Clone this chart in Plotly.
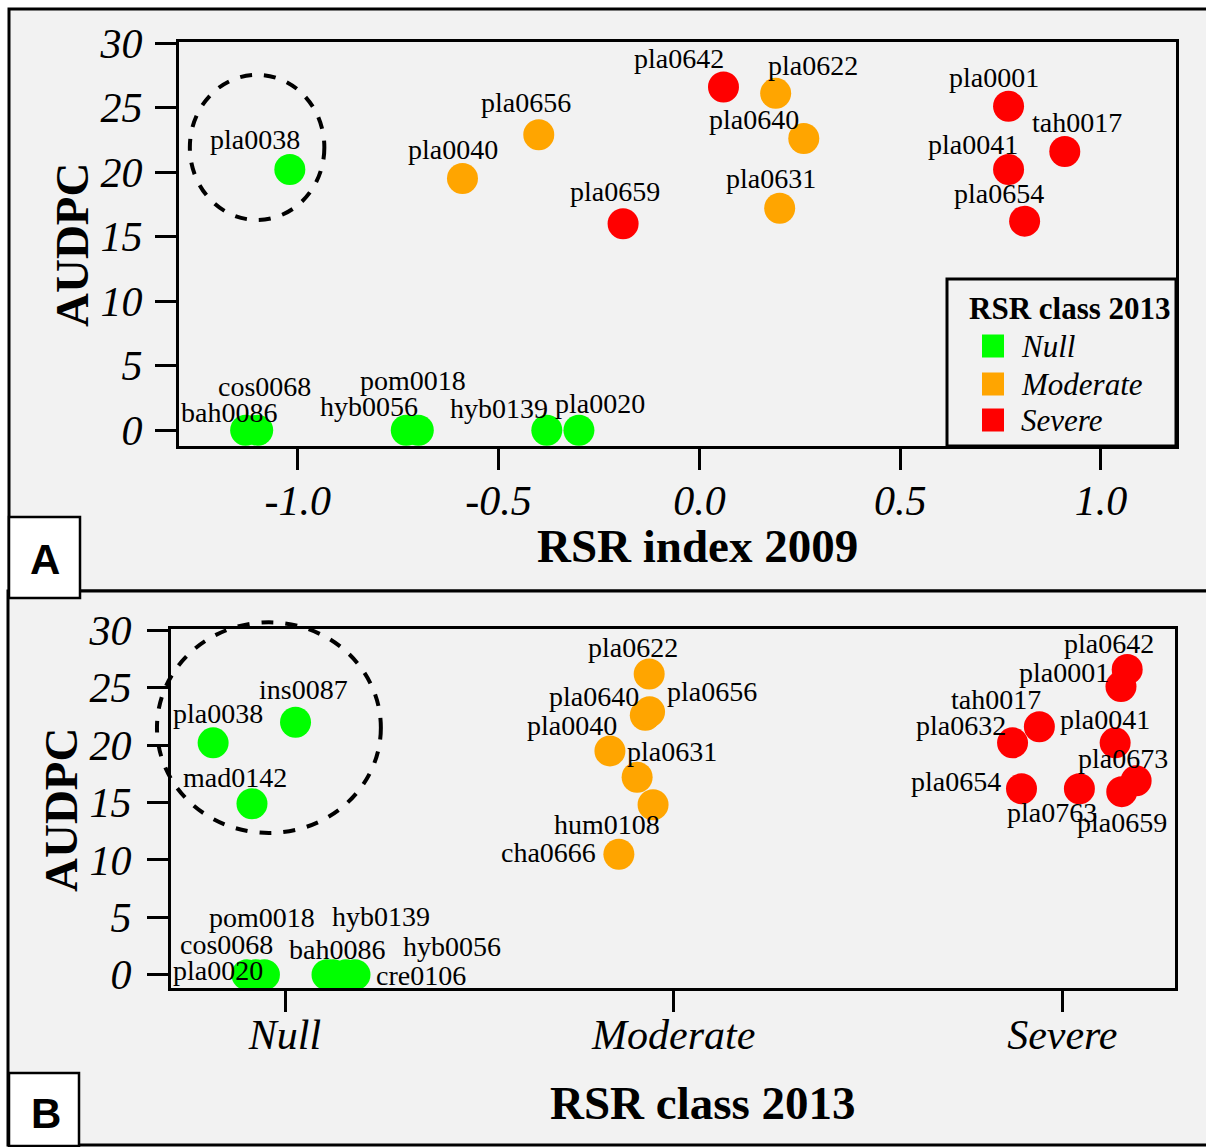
import plotly.graph_objects as go

W, H = 1206, 1147

# ---------------- data ----------------
classes = ["Null", "Moderate", "Severe"]
class_colors = ["#00ff00", "#ffa500", "#ff0000"]

# Panel A : AUDPC vs RSR index 2009
a_names = ["pla0038", "pla0040", "pla0656", "pla0659", "pla0642", "pla0622", "pla0640",
           "pla0631", "pla0001", "tah0017", "pla0041", "pla0654",
           "bah0086", "cos0068", "hyb0056", "pom0018", "hyb0139", "pla0020"]
a_rsr2009 = [-1.02, -0.59, -0.40, -0.19, 0.06, 0.19, 0.26,
             0.20, 0.77, 0.91, 0.77, 0.81,
             -1.13, -1.10, -0.73, -0.70, -0.38, -0.30]
a_audpc = [20.2, 19.5, 22.9, 16.0, 26.6, 26.1, 22.6,
           17.2, 25.1, 21.6, 20.2, 16.2,
           0, 0, 0, 0, 0, 0]
a_class = ["Null", "Moderate", "Moderate", "Severe", "Severe", "Moderate", "Moderate",
           "Moderate", "Severe", "Severe", "Severe", "Severe",
           "Null", "Null", "Null", "Null", "Null", "Null"]

a_xtick_vals = [-1.0, -0.5, 0.0, 0.5, 1.0]
a_xtick_text = ["-1.0", "-0.5", "0.0", "0.5", "1.0"]
y_tick_vals = [0, 5, 10, 15, 20, 25, 30]
y_tick_text = ["0", "5", "10", "15", "20", "25", "30"]

# Panel B : AUDPC vs RSR class 2013 (jittered within class)
b_names = ["pla0038", "ins0087", "mad0142", "pla0020", "cos0068", "pom0018", "bah0086",
           "hyb0139", "hyb0056", "cre0106",
           "pla0622", "pla0640", "pla0656", "pla0040", "pla0631", "hum0108", "cha0666",
           "pla0642", "pla0001", "tah0017", "pla0632", "pla0041", "pla0673", "pla0659",
           "pla0654", "pla0763"]
b_class = ["Null"] * 10 + ["Moderate"] * 7 + ["Severe"] * 9
b_jitter = [-0.185, 0.027, -0.085, -0.098, -0.075, -0.053, 0.108, 0.124, 0.157, 0.180,
            -0.063, -0.073, -0.062, -0.164, -0.094, -0.053, -0.141,
            0.167, 0.151, -0.059, -0.128, 0.136, 0.190, 0.153, -0.105, 0.044]
b_audpc = [20.2, 22.0, 14.9, 0, 0, 0, 0, 0, 0, 0,
           26.2, 22.6, 22.9, 19.5, 17.2, 14.8, 10.5,
           26.6, 25.1, 21.6, 20.2, 20.2, 16.9, 15.95, 16.2, 16.2]

# ---------------- label placement (pixel offsets) ----------------
a_label_off = {
    "pla0038": (-35, -30), "pla0040": (-9, -29), "pla0656": (-13, -32), "pla0659": (-8, -32),
    "pla0642": (-44, -28), "pla0622": (37, -28), "pla0640": (-50, -19), "pla0631": (-9, -30),
    "pla0001": (-15, -29), "tah0017": (12, -29), "pla0041": (-36, -25), "pla0654": (-26, -28),
    "bah0086": (-17, -18), "cos0068": (7, -44), "hyb0056": (-37, -24), "pom0018": (-5, -50),
    "hyb0139": (-48, -22), "pla0020": (21, -27),
}
b_label_off = {
    "pla0038": (5, -29), "ins0087": (8, -33), "mad0142": (-17, -26), "pla0020": (-29, -4),
    "cos0068": (-29, -30), "pom0018": (-2, -57), "bah0086": (10, -25), "hyb0139": (48, -58),
    "hyb0056": (106, -28), "cre0106": (66, 1),
    "pla0622": (-16, -26), "pla0640": (-51, -19), "pla0656": (62, -20), "pla0040": (-38, -25),
    "pla0631": (35, -26), "hum0108": (-46, 20), "cha0666": (-70, -2),
    "pla0642": (-18, -26), "pla0001": (-57, -14), "tah0017": (-43, -27), "pla0632": (-52, -17),
    "pla0041": (-10, -23), "pla0673": (-13, -22), "pla0659": (0, 31), "pla0654": (-65, -7),
    "pla0763": (-27, 24),
}

# ---------------- layout geometry ----------------
def px(x):
    return x / W

def py(y):
    return 1 - y / H

SERIF = "Liberation Serif"
BG = "#f2f2f2"

A_x = [px(179), px(1176)]
A_y = [py(446), py(42)]
B_x = [px(171), px(1175)]
B_y = [py(988), py(629)]
A_xr = [-1.296, 1.187]
A_yr = [-1.22, 30.08]
B_xr = [0.7066, 3.290]
B_yr = [-1.16, 30.12]

fig = go.Figure()

MS = 31
for ci, c in enumerate(classes):
    idx = [i for i, k in enumerate(a_class) if k == c]
    fig.add_trace(go.Scatter(
        x=[a_rsr2009[i] for i in idx], y=[a_audpc[i] for i in idx],
        mode="markers", marker=dict(size=MS, color=class_colors[ci], line=dict(width=0)),
        name=c, showlegend=False, xaxis="x", yaxis="y", hoverinfo="text",
        text=[a_names[i] for i in idx]))
    idx = [i for i, k in enumerate(b_class) if k == c]
    fig.add_trace(go.Scatter(
        x=[classes.index(b_class[i]) + 1 + b_jitter[i] for i in idx],
        y=[b_audpc[i] for i in idx],
        mode="markers", marker=dict(size=MS, color=class_colors[ci], line=dict(width=0)),
        name=c, showlegend=False, xaxis="x2", yaxis="y2", hoverinfo="text",
        text=[b_names[i] for i in idx]))

anns = []
LBL = dict(family=SERIF, size=28, color="black")
for i, n in enumerate(a_names):
    dx, dy = a_label_off[n]
    anns.append(dict(x=a_rsr2009[i], y=a_audpc[i], xref="x", yref="y", text=n,
                     showarrow=False, xanchor="center", yanchor="middle",
                     xshift=dx, yshift=-dy, font=LBL))
for i, n in enumerate(b_names):
    dx, dy = b_label_off[n]
    anns.append(dict(x=classes.index(b_class[i]) + 1 + b_jitter[i], y=b_audpc[i],
                     xref="x2", yref="y2", text=n,
                     showarrow=False, xanchor="center", yanchor="middle",
                     xshift=dx, yshift=-dy, font=LBL))

# axis titles
TITLE = dict(family=SERIF, size=47, color="black", weight="bold")
anns += [
    dict(x=px(697), y=py(546), xref="paper", yref="paper", text="RSR index 2009",
         showarrow=False, font=TITLE, xanchor="center", yanchor="middle"),
    dict(x=px(703), y=py(1103), xref="paper", yref="paper", text="RSR class 2013",
         showarrow=False, font=TITLE, xanchor="center", yanchor="middle"),
    dict(x=px(72), y=py(245), xref="paper", yref="paper", text="AUDPC", textangle=-90,
         showarrow=False, font=TITLE, xanchor="center", yanchor="middle"),
    dict(x=px(61), y=py(810), xref="paper", yref="paper", text="AUDPC", textangle=-90,
         showarrow=False, font=TITLE, xanchor="center", yanchor="middle"),
]

shapes = [
    # panel frames
    dict(type="rect", xref="paper", yref="paper", x0=px(9), x1=px(1230), y0=py(591), y1=py(9),
         line=dict(color="black", width=3), fillcolor=BG, layer="below"),
    dict(type="rect", xref="paper", yref="paper", x0=px(8), x1=px(1230), y0=py(1145), y1=py(591),
         line=dict(color="black", width=3), fillcolor=BG, layer="below"),
]

# dashed ellipses (data-unit extents converted to axis-domain fractions)
def dom(v, r):
    return (v - r[0]) / (r[1] - r[0])

ellA = (-1.269, -0.934, 16.29, 27.54)
ellB = (0.6705, 1.2466, 12.35, 30.7)
shapes.append(dict(type="circle", xref="x domain", yref="y domain",
                   x0=dom(ellA[0], A_xr), x1=dom(ellA[1], A_xr),
                   y0=dom(ellA[2], A_yr), y1=dom(ellA[3], A_yr),
                   line=dict(color="black", width=4, dash="dash")))
shapes.append(dict(type="circle", xref="x2 domain", yref="y2 domain",
                   x0=dom(ellB[0], B_xr), x1=dom(ellB[1], B_xr),
                   y0=dom(ellB[2], B_yr), y1=dom(ellB[3], B_yr),
                   line=dict(color="black", width=4, dash="dash")))

# legend (panel A)
shapes.append(dict(type="rect", xref="paper", yref="paper", x0=px(947), x1=px(1176),
                   y0=py(446), y1=py(279), line=dict(color="black", width=3), fillcolor=BG))
anns.append(dict(x=px(1070), y=py(308), xref="paper", yref="paper", text="RSR class 2013",
                 showarrow=False, xanchor="center", yanchor="middle",
                 font=dict(family=SERIF, size=31, color="black", weight="bold")))
leg_y = [346, 384, 420]
for ci, c in enumerate(classes):
    shapes.append(dict(type="rect", xref="paper", yref="paper", x0=px(982), x1=px(1004),
                       y0=py(leg_y[ci] + 11.5), y1=py(leg_y[ci] - 11.5),
                       line=dict(width=0), fillcolor=class_colors[ci]))
    anns.append(dict(x=px(1019), y=py(leg_y[ci]), xref="paper", yref="paper", text=c,
                     showarrow=False, xanchor="left", yanchor="middle",
                     font=dict(family=SERIF, size=31, color="black", style="italic")))

# panel letters
shapes.append(dict(type="rect", xref="paper", yref="paper", x0=px(9), x1=px(80),
                   y0=py(598), y1=py(517), line=dict(color="black", width=2.5), fillcolor="white"))
shapes.append(dict(type="rect", xref="paper", yref="paper", x0=px(9), x1=px(79),
                   y0=py(1146), y1=py(1073), line=dict(color="black", width=2.5), fillcolor="white"))
for letter, cx, cy in [("A", 44.5, 559), ("B", 45.5, 1113)]:
    anns.append(dict(x=px(cx), y=py(cy), xref="paper", yref="paper", text=letter,
                     showarrow=False, xanchor="center", yanchor="middle",
                     font=dict(family="Liberation Sans", size=42, color="black", weight="bold")))

TICKF = dict(family=SERIF, size=42, color="black", style="italic")
axis_common = dict(showgrid=False, zeroline=False, showline=True, mirror=True,
                   linecolor="black", linewidth=3, ticks="outside", ticklen=21,
                   tickwidth=3, tickcolor="black", tickfont=TICKF, tickmode="array",
                   automargin=False)

fig.update_layout(
    template="none",
    width=W, height=H, margin=dict(l=0, r=0, t=0, b=0, pad=0, autoexpand=False),
    paper_bgcolor="white", plot_bgcolor="rgba(0,0,0,0)",
    showlegend=False,
    xaxis=dict(domain=A_x, range=A_xr, anchor="y", tickvals=a_xtick_vals,
               ticktext=a_xtick_text, ticklabelstandoff=-5, **axis_common),
    yaxis=dict(domain=A_y, range=A_yr, anchor="x", tickvals=y_tick_vals,
               ticktext=y_tick_text, ticklabelstandoff=4, **axis_common),
    xaxis2=dict(domain=B_x, range=B_xr, anchor="y2", tickvals=[1, 2, 3],
                ticktext=classes, ticklabelstandoff=-13, **axis_common),
    yaxis2=dict(domain=B_y, range=B_yr, anchor="x2", tickvals=y_tick_vals,
                ticktext=y_tick_text, ticklabelstandoff=7, **axis_common),
    annotations=anns, shapes=shapes,
)

fig.write_html("out.html", config={"displayModeBar": False},
               post_script="document.body.style.margin='0px';document.body.style.overflow='hidden';")
